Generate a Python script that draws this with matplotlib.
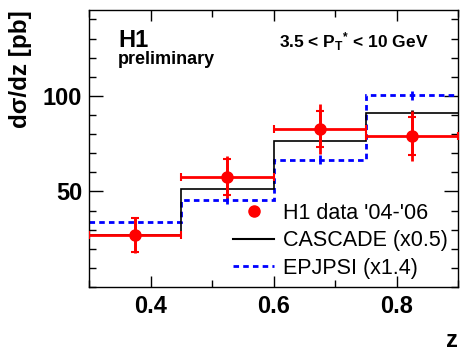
import matplotlib
matplotlib.use('Agg')
import matplotlib.pyplot as plt
from matplotlib.lines import Line2D
from matplotlib.ticker import MultipleLocator, FixedLocator

plt.rcParams['font.family'] = 'Liberation Sans'
plt.rcParams['mathtext.fontset'] = 'custom'
plt.rcParams['mathtext.rm'] = 'Liberation Sans:bold'
plt.rcParams['mathtext.it'] = 'Liberation Sans:bold'
plt.rcParams['mathtext.bf'] = 'Liberation Sans:bold'

# bins in z
edges = [0.3, 0.45, 0.6, 0.75, 0.9]
z_c = [0.375, 0.525, 0.675, 0.825]
z_half = [0.075, 0.075, 0.075, 0.075]

# H1 data
data = [27.3, 57.5, 82.6, 79.1]
stat_err = [8.8, 9.6, 9.6, 9.8]
tot_err = [9.4, 10.8, 13.2, 13.0]

# models
cascade = [27.3, 51.4, 76.3, 91.3]
cascade_err = [0.0, 0.0, 0.0, 1.2]
epjpsi = [34.2, 45.3, 66.7, 100.3]
epjpsi_err = [0.0, 1.7, 2.2, 2.4]

fig = plt.figure(figsize=(4.69, 3.53), dpi=100)
ax = fig.add_axes([0.19, 0.187, 0.7865, 0.785])

# models
ax.stairs(epjpsi, edges, baseline=None, color='#0000ff', lw=2, ls=(0, (2, 1.5)), zorder=2)
ax.errorbar(z_c, epjpsi, yerr=epjpsi_err, fmt='none', ecolor='#0000ff', elinewidth=2, zorder=2)
ax.stairs(cascade, edges, baseline=None, color='black', lw=1.2, zorder=3)
ax.errorbar(z_c, cascade, yerr=cascade_err, fmt='none', ecolor='black', elinewidth=2, zorder=3)

# data
ax.errorbar(z_c, data, xerr=z_half, yerr=tot_err, fmt='none', ecolor='#ff0000',
            elinewidth=2, capsize=0, zorder=4)
ax.errorbar(z_c, data, yerr=stat_err, fmt='o', color='#ff0000', ms=8,
            elinewidth=2, capsize=3, capthick=1.5, zorder=5)
ax.errorbar(z_c, data, xerr=z_half, fmt='none', ecolor='#ff0000', elinewidth=0,
            capsize=3, capthick=1.5, zorder=4)

ax.set_xlim(0.3, 0.9)
ax.set_ylim(0, 145)

ax.xaxis.set_major_locator(FixedLocator([0.4, 0.6, 0.8]))
ax.xaxis.set_minor_locator(FixedLocator([0.3, 0.5, 0.7, 0.9]))
ax.yaxis.set_major_locator(FixedLocator([50, 100]))
ax.yaxis.set_minor_locator(MultipleLocator(10))
ax.tick_params(which='both', direction='in', top=True, right=True, width=1)
ax.tick_params(which='major', length=8, labelsize=17, pad=6)
ax.tick_params(axis='y', which='major', length=10, pad=5)
ax.tick_params(which='minor', length=5)
for lab in ax.get_xticklabels() + ax.get_yticklabels():
    lab.set_fontweight('bold')
for sp in ax.spines.values():
    sp.set_linewidth(1)

ax.set_ylabel('dσ/dz [pb]', fontsize=17.5, fontweight='bold', loc='top')
ax.yaxis.set_label_coords(-0.155, 1.0)
ax.set_xlabel('z', fontsize=17, fontweight='bold', loc='right')
ax.xaxis.set_label_coords(1.0, -0.15)

ax.text(0.079, 0.866, 'H1', transform=ax.transAxes, fontsize=17, fontweight='bold')
ax.text(0.079, 0.805, 'preliminary', transform=ax.transAxes, fontsize=13, fontweight='bold')
ax.text(0.515, 0.863, r'3.5 < P$_{T}$$^{*}$ < 10 GeV', transform=ax.transAxes,
        fontsize=12.5, fontweight='bold')

handles = [Line2D([], [], color='#ff0000', marker='o', ls='none', ms=8),
           Line2D([], [], color='black', lw=1.5),
           Line2D([], [], color='#0000ff', lw=2, ls=(0, (2, 1.5)))]
labels = ["H1 data '04-'06", 'CASCADE (x0.5)', 'EPJPSI (x1.4)']
ax.legend(handles, labels, loc='lower right', bbox_to_anchor=(1.025, -0.04), frameon=False,
          fontsize=15.5, handlelength=1.9, handletextpad=0.4, labelspacing=0.3)

fig.savefig('out.png', dpi=100)
